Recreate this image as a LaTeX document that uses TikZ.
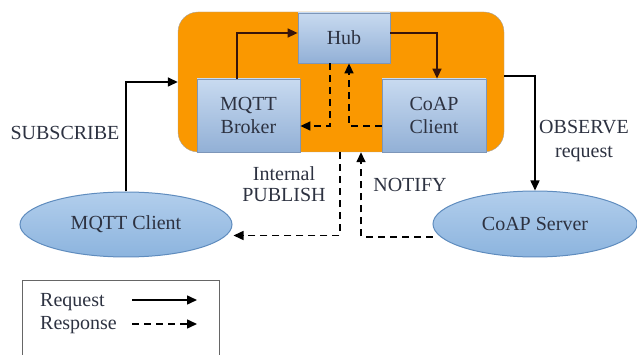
\documentclass[tikz,border=0pt]{standalone}
\usepackage{fontspec}
\setmainfont{Liberation Serif}
\usetikzlibrary{arrows.meta,calc,shapes.geometric}
\definecolor{hubor}{RGB}{250,152,0}
\definecolor{boxtop}{RGB}{200,218,240}
\definecolor{boxbot}{RGB}{146,176,214}
\definecolor{boxline}{RGB}{125,150,185}
\definecolor{elltop}{RGB}{178,206,236}
\definecolor{ellbot}{RGB}{140,180,222}
\definecolor{ellline}{RGB}{95,140,190}
\definecolor{txt}{RGB}{45,50,65}
\definecolor{inner}{RGB}{55,20,10}

\begin{document}
\begin{tikzpicture}[x=1pt, y=-1pt, font=\fontsize{20}{21}\selectfont, >={Triangle[length=10pt,width=9pt]},
    box/.style={rectangle, draw=boxline, line width=0.8pt, top color=boxtop, bottom color=boxbot,
      text=txt, align=center, inner sep=0pt},
    peer/.style={ellipse, draw=ellline, line width=1pt, top color=elltop, bottom color=ellbot,
      text=txt, inner sep=0pt},
    lbl/.style={text=txt, align=center, inner sep=0pt},
    req/.style={->, line width=1.5pt},
    resp/.style={->, line width=1.5pt, dash pattern=on 7pt off 5pt}]
    \useasboundingbox (0,0) rectangle (637,355);
    \node[draw=gray!70, fill=hubor, rounded corners=20pt, minimum width=326pt, minimum height=140pt] (core) at (341,82) {};
    \node[box, minimum width=92pt, minimum height=50pt] (hub) at (344,38) {Hub};
    \node[box, minimum width=103pt, minimum height=73pt, font=\fontsize{20}{23}\selectfont] (broker) at (248.5,115.5) {MQTT\\Broker};
    \node[box, minimum width=104pt, minimum height=73pt, font=\fontsize{20}{23}\selectfont] (coapc) at (434,115.5) {CoAP\\Client};
    \node[peer, minimum width=212pt, minimum height=65pt] (mqttc) at (126,224.5) {MQTT Client};
    \node[peer, minimum width=204pt, minimum height=66pt] (coaps) at (535,224) {CoAP Server};
    \draw[req, draw=inner] ([xshift=-11.5pt]broker.north) |- ([yshift=5pt]hub.west);
    \draw[req, draw=inner] ([yshift=5pt]hub.east) -| ([xshift=3pt]coapc.north);
    \draw[resp] ([xshift=-14pt]hub.south) |- ([yshift=-10.5pt]broker.east);
    \draw[resp] ([yshift=-10.5pt]coapc.west) -| ([xshift=5pt]hub.south);
    \coordinate (mqin) at ([xshift=1pt,yshift=-11pt]mqttc.east);
    \coordinate (coout) at ([yshift=-13pt]coaps.west);
    \draw[resp] ([xshift=-1pt]core.south) |- (mqin);
    \draw[resp] (coout) -| ([xshift=20pt]core.south);
    \draw[req] (mqttc.north) |- (core.west);
    \draw[req] ([yshift=6pt]core.east) -| (coaps.north);
    \node[lbl] (subl) at (65,133) {SUBSCRIBE};
    \node[lbl] (publ) at (284,184) {Internal\\PUBLISH};
    \node[lbl] (notl) at (410,185) {NOTIFY};
    \node[lbl, font=\fontsize{20}{24}\selectfont] (obsl) at (584,141) {OBSERVE\\request};
    \draw[line width=0.8pt, draw=gray!80!black] (22,280) rectangle (219,365);
    \node[lbl, anchor=west] (reql) at (40,302) {Request};
    \node[lbl, anchor=west] (resl) at (40,325) {Response};
    \coordinate (reqa) at (132,300);
    \coordinate (reqb) at (197,300);
    \coordinate (resa) at (132,324);
    \coordinate (resb) at (197,324);
    \draw[req] (reqa) -- (reqb);
    \draw[resp] (resa) -- (resb);
\end{tikzpicture}
\end{document}
